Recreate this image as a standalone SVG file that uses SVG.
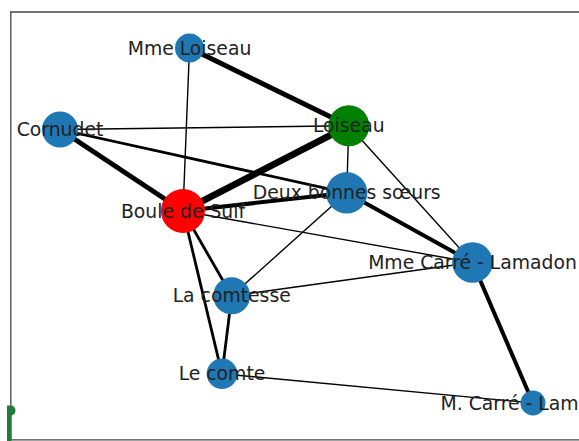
<svg xmlns="http://www.w3.org/2000/svg" width="579" height="441" viewBox="0 0 579 441">
<style>
.e{stroke:#000;fill:none;stroke-linecap:butt}
.t1{stroke-width:1.4}
.t3{stroke-width:2.8}
.t4{stroke-width:4}
.t5{stroke-width:5}
.t7{stroke-width:6.8}
.b{fill:#1f78b4}
text{font-family:"DejaVu Sans",sans-serif;font-size:18.8px;fill:#222;text-anchor:middle}
</style>
<rect x="0" y="0" width="579" height="441" fill="#fff"/>
<path d="M600,12 H10.8 V439.8 H600" fill="none" stroke="#444" stroke-width="1.3"/>
<path d="M7,441 V405.5 H11 A4.5,5 0 0 1 11,415.5 H11.5 V441 Z" fill="#217a3c"/>
<g id="edges">
<line class="e t5" x1="189.5" y1="48" x2="348.8" y2="125.8"/>
<line class="e t1" x1="189.5" y1="48" x2="183" y2="211"/>
<line class="e t1" x1="60" y1="129.5" x2="348.8" y2="125.8"/>
<line class="e t5" x1="60" y1="129.5" x2="183" y2="211"/>
<line class="e t3" x1="60" y1="129.5" x2="346.7" y2="192.8"/>
<line class="e t7" x1="348.8" y1="125.8" x2="183" y2="211"/>
<line class="e t1" x1="348.8" y1="125.8" x2="346.7" y2="192.8"/>
<line class="e t1" x1="348.8" y1="125.8" x2="472.5" y2="262.5"/>
<line class="e t4" x1="183" y1="211" x2="346.7" y2="192.8"/>
<line class="e t1" x1="183" y1="211" x2="472.5" y2="262.5"/>
<line class="e t3" x1="183" y1="211" x2="231.7" y2="295.8"/>
<line class="e t3" x1="183" y1="211" x2="222" y2="373.8"/>
<line class="e t4" x1="346.7" y1="192.8" x2="472.5" y2="262.5"/>
<line class="e t1" x1="346.7" y1="192.8" x2="231.7" y2="295.8"/>
<line class="e t1" x1="472.5" y1="262.5" x2="231.7" y2="295.8"/>
<line class="e t4" x1="472.5" y1="262.5" x2="533" y2="403"/>
<line class="e t3" x1="231.7" y1="295.8" x2="222" y2="373.8"/>
<line class="e t1" x1="222" y1="373.8" x2="533" y2="403"/>
</g>
<g id="n-mme-loiseau"><circle class="b" cx="189.5" cy="48" r="14.5"/><text x="189.5" y="54.8">Mme Loiseau</text></g>
<g id="n-loiseau"><circle cx="348.8" cy="125.8" r="20.5" fill="#008000"/><text x="348.8" y="132.3">Loiseau</text></g>
<g id="n-cornudet"><circle class="b" cx="60" cy="129.5" r="18"/><text x="60" y="136">Cornudet</text></g>
<g id="n-boule"><circle cx="183" cy="211" r="22" fill="#ff0000"/><text x="183" y="217.5">Boule de Suif</text></g>
<g id="n-deux"><circle class="b" cx="346.7" cy="192.8" r="20.7"/><text x="346.7" y="199.3">Deux bonnes sœurs</text></g>
<g id="n-mme-carre"><circle class="b" cx="472.5" cy="262.5" r="20.3"/><text x="472.5" y="269">Mme Carré - Lamadon</text></g>
<g id="n-comtesse"><circle class="b" cx="231.7" cy="295.8" r="18.5"/><text x="231.7" y="302.3">La comtesse</text></g>
<g id="n-comte"><circle class="b" cx="222" cy="373.8" r="15.3"/><text x="222" y="380.3">Le comte</text></g>
<g id="n-m-carre"><circle class="b" cx="533" cy="403" r="12.5"/><text x="533" y="409.5">M. Carré - Lamadon</text></g>
</svg>
